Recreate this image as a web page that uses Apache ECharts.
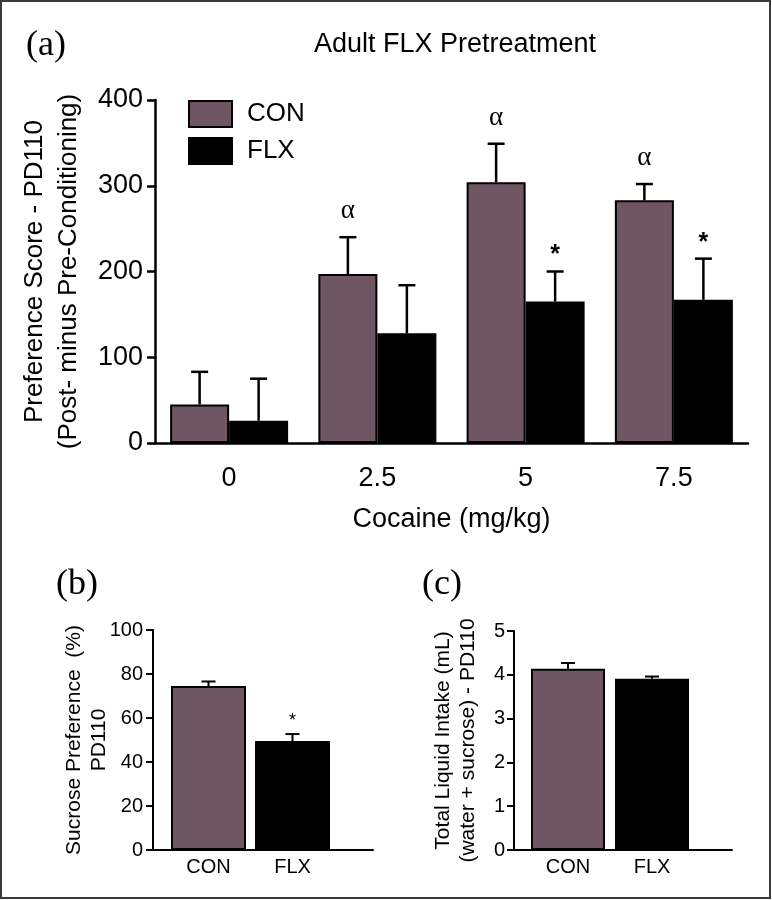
<!DOCTYPE html>
<html><head><meta charset="utf-8">
<script src="https://cdn.jsdelivr.net/npm/echarts@6/dist/echarts.min.js"></script>
<style>html,body{margin:0;padding:0;background:#fff}#c{width:772px;height:900px}</style>
</head><body><div id="c"></div>
<script>
// ---- Panel (a) data ----
const doseCategories = ['0', '2.5', '5', '7.5'];
const seriesNames = ['CON', 'FLX'];
const conMeans = [45, 197, 304, 283];
const conSems = [38, 43, 45, 19];
const flxMeans = [26, 128, 165, 167];
const flxSems = [49, 56, 35, 48];
const conMarks = ['', 'α', 'α', 'α'];
const flxMarks = ['', '', '*', '*'];

// ---- Panel (b) data ----
const groupCategories = ['CON', 'FLX'];
const sucroseMeans = [74.5, 49.5];
const sucroseSems = [2.1, 3.2];
const sucroseMarks = ['', '*'];

// ---- Panel (c) data ----
const intakeMeans = [4.14, 3.91];
const intakeSems = [0.13, 0.05];
const intakeMarks = ['', ''];

const CON_COLOR = '#705563';
const FLX_COLOR = '#000000';
const SANS = '"Liberation Sans", Arial, sans-serif';
const SERIF = '"Liberation Serif", "Times New Roman", serif';

function errRenderer(offsetSign, barWidth, capHalf, lineW, marks, markStyle, markGap) {
  return function (params, api) {
    const i = api.value(0), m = api.value(1), s = api.value(2);
    const base = api.coord([i, m]);
    const top = api.coord([i, m + s]);
    const x = base[0] + offsetSign * barWidth / 2;
    const children = [
      { type: 'line', shape: { x1: x, y1: base[1], x2: x, y2: top[1] }, style: { stroke: '#000', lineWidth: lineW } },
      { type: 'line', shape: { x1: x - capHalf, y1: top[1], x2: x + capHalf, y2: top[1] }, style: { stroke: '#000', lineWidth: lineW } }
    ];
    const mk = marks[params.dataIndex];
    if (mk) {
      children.push({ type: 'text', x: x, y: top[1] - markGap,
        style: Object.assign({ text: mk, align: 'center', verticalAlign: 'middle', fill: '#000' }, markStyle) });
    }
    return { type: 'group', children: children };
  };
}

function errData(means, sems) {
  return means.map((v, i) => [i, v, sems[i]]);
}

const BAR_A = 59;
const lineOnlyX = (gi) => ({
  type: 'value', gridIndex: gi, min: 0, max: 1,
  axisLine: { show: true, lineStyle: { color: '#000', width: 2 } },
  axisTick: { show: false }, axisLabel: { show: false }, splitLine: { show: false }
});
const hiddenY = (gi, max) => ({
  type: 'value', gridIndex: gi, min: 0, max: max, show: false, splitLine: { show: false }
});
const catX = (gi) => ({
  type: 'category', gridIndex: gi, data: groupCategories,
  axisLine: { show: false }, axisTick: { show: false },
  axisLabel: { color: '#000', fontSize: 20, fontFamily: SANS, margin: 7 }
});

const chart = echarts.init(document.getElementById('c'), null, { renderer: 'canvas' });
chart.setOption({
  animation: false,
  backgroundColor: '#fff',
  grid: [
    { left: 155, top: 100, width: 593, height: 343, containLabel: false },
    { left: 153, top: 630, width: 220, height: 220, containLabel: false },
    { left: 166.5, top: 630, width: 168, height: 220, containLabel: false },
    { left: 514, top: 631, width: 218, height: 219, containLabel: false },
    { left: 526, top: 631, width: 168, height: 219, containLabel: false }
  ],
  legend: {
    data: seriesNames, orient: 'vertical', left: 183, top: 95,
    itemWidth: 43, itemHeight: 26, itemGap: 9, icon: 'rect',
    itemStyle: { borderColor: '#000', borderWidth: 2 },
    textStyle: { color: '#000', fontSize: 26, fontFamily: SANS, padding: [0, 0, 0, 10] }
  },
  xAxis: [
    {
      type: 'category', gridIndex: 0, data: doseCategories,
      axisLine: { show: true, lineStyle: { color: '#000', width: 2.5 } },
      axisTick: { show: false },
      axisLabel: { color: '#000', fontSize: 27, fontFamily: SANS, margin: 22 },
      name: 'Cocaine (mg/kg)', nameLocation: 'middle', nameGap: 63, nameMoveOverlap: false,
      nameTextStyle: { color: '#000', fontSize: 27, fontFamily: SANS }
    },
    lineOnlyX(1),
    catX(2),
    lineOnlyX(3),
    catX(4)
  ],
  yAxis: [
    {
      type: 'value', gridIndex: 0, min: 0, max: 400, interval: 100,
      axisLine: { show: true, lineStyle: { color: '#000', width: 2.5 } },
      axisTick: { show: true, length: 8, lineStyle: { color: '#000', width: 2.5 } },
      axisLabel: { color: '#000', fontSize: 27, fontFamily: SANS, margin: 12 },
      splitLine: { show: false },
      name: 'Preference Score - PD110\n(Post- minus Pre-Conditioning)',
      nameLocation: 'middle', nameGap: 69, nameMoveOverlap: false,
      nameTextStyle: { color: '#000', fontSize: 26, fontFamily: SANS, lineHeight: 34 }
    },
    {
      type: 'value', gridIndex: 1, min: 0, max: 100, interval: 20,
      axisLine: { show: true, lineStyle: { color: '#000', width: 2 } },
      axisTick: { show: true, length: 7, lineStyle: { color: '#000', width: 2 } },
      axisLabel: { color: '#000', fontSize: 20, fontFamily: SANS, margin: 10 },
      splitLine: { show: false },
      name: 'Sucrose Preference  (%)\nPD110',
      nameLocation: 'middle', nameGap: 41, nameMoveOverlap: false,
      nameTextStyle: { color: '#000', fontSize: 21, fontFamily: SANS, lineHeight: 25 }
    },
    hiddenY(2, 100),
    {
      type: 'value', gridIndex: 3, min: 0, max: 5, interval: 1,
      axisLine: { show: true, lineStyle: { color: '#000', width: 2 } },
      axisTick: { show: true, length: 7, lineStyle: { color: '#000', width: 2 } },
      axisLabel: { color: '#000', fontSize: 20, fontFamily: SANS, margin: 9 },
      splitLine: { show: false },
      name: 'Total Liquid Intake (mL)\n(water + sucrose) - PD110',
      nameLocation: 'middle', nameGap: 33, nameMoveOverlap: false,
      nameTextStyle: { color: '#000', fontSize: 21, fontFamily: SANS, lineHeight: 25 }
    },
    hiddenY(4, 5)
  ],
  series: [
    {
      name: 'CON', type: 'bar', xAxisIndex: 0, yAxisIndex: 0, data: conMeans,
      barWidth: BAR_A, barGap: '0%',
      itemStyle: { color: CON_COLOR, borderColor: '#000', borderWidth: 2 }
    },
    {
      name: 'FLX', type: 'bar', xAxisIndex: 0, yAxisIndex: 0, data: flxMeans,
      barWidth: BAR_A, barGap: '0%',
      itemStyle: { color: FLX_COLOR, borderColor: '#000', borderWidth: 2 }
    },
    {
      type: 'custom', xAxisIndex: 0, yAxisIndex: 0, z: 5, data: errData(conMeans, conSems),
      renderItem: errRenderer(-1, BAR_A, 8.5, 2.5, conMarks, { fontSize: 27, fontFamily: SERIF }, 26)
    },
    {
      type: 'custom', xAxisIndex: 0, yAxisIndex: 0, z: 5, data: errData(flxMeans, flxSems),
      renderItem: errRenderer(1, BAR_A, 8.5, 2.5, flxMarks, { fontSize: 25, fontFamily: SANS, fontWeight: 'bold' }, 16)
    },
    {
      type: 'bar', xAxisIndex: 2, yAxisIndex: 2, barWidth: 75,
      data: sucroseMeans.map((v, i) => ({ value: v, itemStyle: { color: i === 0 ? CON_COLOR : FLX_COLOR } })),
      itemStyle: { borderColor: '#000', borderWidth: 2 }
    },
    {
      type: 'custom', xAxisIndex: 2, yAxisIndex: 2, z: 5, data: errData(sucroseMeans, sucroseSems),
      renderItem: errRenderer(0, 0, 7, 2, sucroseMarks, { fontSize: 18, fontFamily: SANS }, 13)
    },
    {
      type: 'bar', xAxisIndex: 4, yAxisIndex: 4, barWidth: 74,
      data: intakeMeans.map((v, i) => ({ value: v, itemStyle: { color: i === 0 ? CON_COLOR : FLX_COLOR } })),
      itemStyle: { borderColor: '#000', borderWidth: 2 }
    },
    {
      type: 'custom', xAxisIndex: 4, yAxisIndex: 4, z: 5, data: errData(intakeMeans, intakeSems),
      renderItem: errRenderer(0, 0, 7, 2, intakeMarks, { fontSize: 18, fontFamily: SANS }, 13)
    }
  ],
  graphic: [
    { type: 'rect', shape: { x: 1, y: 1, width: 769, height: 897 }, style: { fill: 'none', stroke: '#3a3a3a', lineWidth: 2 }, z: 100 },
    { type: 'text', x: 455, y: 45, style: { text: 'Adult FLX Pretreatment', fontSize: 27, fontFamily: SANS, fill: '#000', align: 'center', verticalAlign: 'middle' } },
    { type: 'text', x: 46, y: 46, style: { text: '(a)', fontSize: 36, fontFamily: SERIF, fill: '#000', align: 'center', verticalAlign: 'middle' } },
    { type: 'text', x: 77, y: 585, style: { text: '(b)', fontSize: 36, fontFamily: SERIF, fill: '#000', align: 'center', verticalAlign: 'middle' } },
    { type: 'text', x: 442, y: 585, style: { text: '(c)', fontSize: 36, fontFamily: SERIF, fill: '#000', align: 'center', verticalAlign: 'middle' } }
  ]
});
</script>
</body></html>
